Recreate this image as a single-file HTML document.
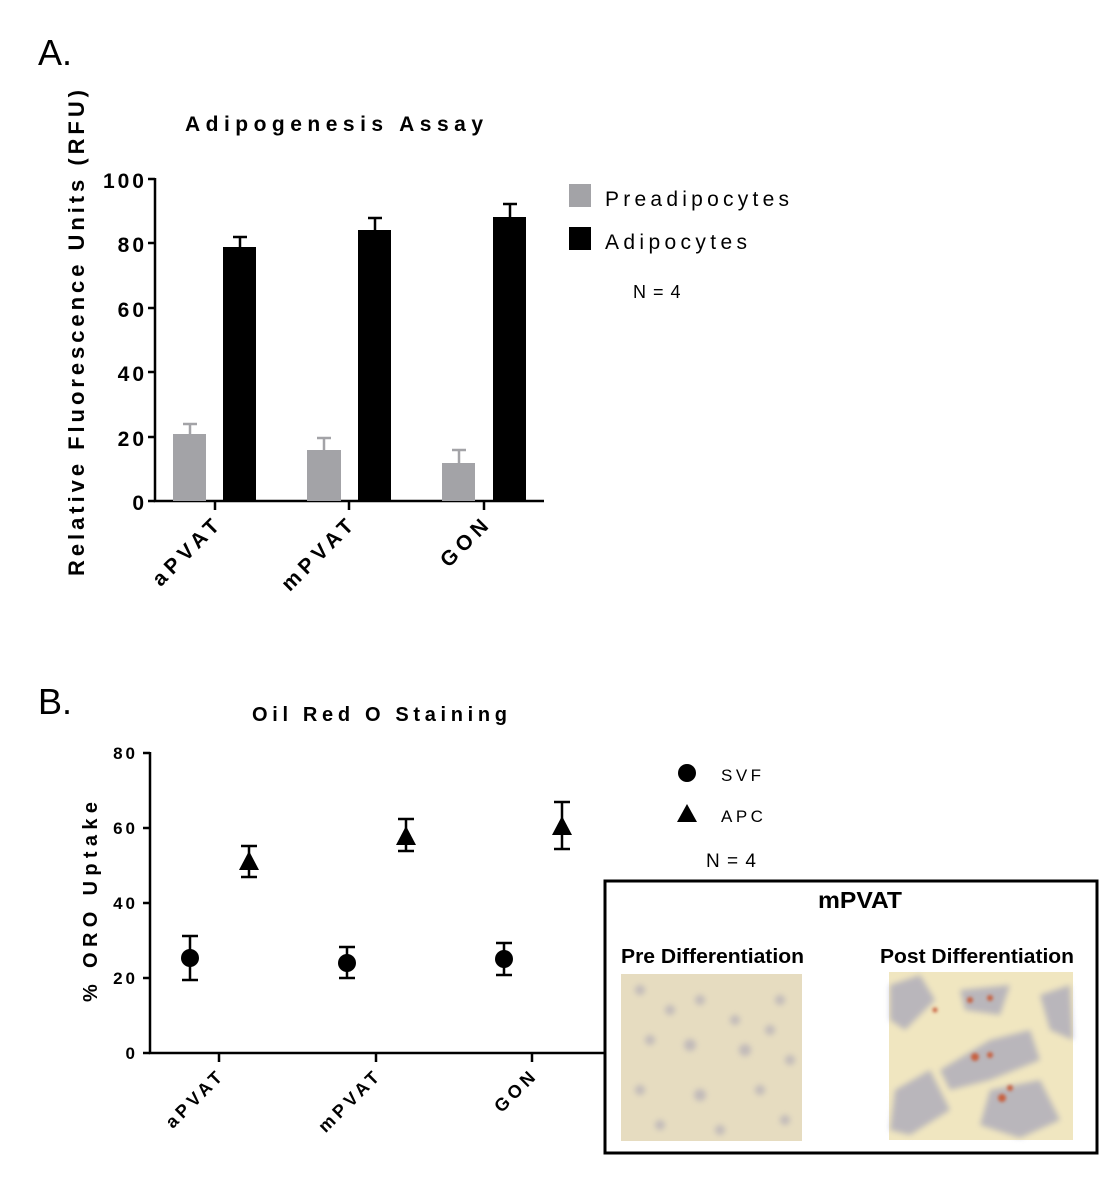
<!DOCTYPE html>
<html><head><meta charset="utf-8"><style>
html,body{margin:0;padding:0;background:#fff;}
svg{display:block;font-family:"Liberation Sans",Arial,sans-serif;}
.b{font-weight:bold;}
</style></head><body>
<svg width="1108" height="1200" viewBox="0 0 1108 1200" xmlns="http://www.w3.org/2000/svg">
<defs>
<filter id="blur2"><feGaussianBlur stdDeviation="3"/></filter>
<filter id="blur1"><feGaussianBlur stdDeviation="1.5"/></filter>
</defs>
<!-- Panel A -->
<text x="38" y="65" font-size="36">A.</text>
<text x="185" y="131" font-size="21" class="b" textLength="298" lengthAdjust="spacing">Adipogenesis Assay</text>
<text transform="translate(84,333) rotate(-90)" text-anchor="middle" font-size="22" class="b" textLength="486" lengthAdjust="spacing">Relative Fluorescence Units (RFU)</text>
<g font-size="21" class="b" text-anchor="end" letter-spacing="3">
<text x="147" y="188">100</text><text x="147" y="252">80</text><text x="147" y="317">60</text>
<text x="147" y="381">40</text><text x="147" y="446">20</text><text x="147" y="510">0</text>
</g>
<g stroke="#000" stroke-width="2.5" fill="none">
<path d="M155,178 V501 H544"/>
<path d="M148,179H155M148,243H155M148,308H155M148,372H155M148,437H155M148,501H155"/>
<path d="M215,501V510M349,501V510M484,501V510"/>
</g>
<g fill="#a3a3a7">
<rect x="173" y="434" width="33" height="67"/><rect x="307" y="450" width="34" height="51"/><rect x="442" y="463" width="33" height="38"/>
</g>
<g fill="#000">
<rect x="223" y="247" width="33" height="254"/><rect x="358" y="230" width="33" height="271"/><rect x="493" y="217" width="33" height="284"/>
</g>
<g stroke="#a3a3a7" stroke-width="2.5">
<path d="M190,434V424M183,424H197M324,450V438M317,438H331M459,463V450M452,450H466"/>
</g>
<g stroke="#000" stroke-width="2.5">
<path d="M240,247V237M233,237H247M375,230V218M368,218H382M510,217V204M503,204H517"/>
</g>
<g font-size="21" class="b" letter-spacing="5" text-anchor="end">
<text transform="translate(224,524) rotate(-45)">aPVAT</text>
<text transform="translate(358,524) rotate(-45)">mPVAT</text>
<text transform="translate(493,524) rotate(-45)">GON</text>
</g>
<rect x="569" y="184" width="22" height="23" fill="#a3a3a7"/>
<rect x="569" y="227" width="22" height="23" fill="#000"/>
<text x="605" y="206" font-size="21" textLength="184" lengthAdjust="spacing">Preadipocytes</text>
<text x="605" y="249" font-size="21" textLength="142" lengthAdjust="spacing">Adipocytes</text>
<text x="633" y="298" font-size="18" letter-spacing="1">N = 4</text>

<!-- Panel B -->
<text x="38" y="714" font-size="36">B.</text>
<text x="252" y="721" font-size="20" class="b" textLength="255" lengthAdjust="spacing">Oil Red O Staining</text>
<text transform="translate(97,902) rotate(-90)" text-anchor="middle" font-size="20" class="b" textLength="200" lengthAdjust="spacing">% ORO Uptake</text>
<g font-size="17" class="b" text-anchor="end" letter-spacing="3">
<text x="138" y="759">80</text><text x="138" y="834">60</text><text x="138" y="909">40</text>
<text x="138" y="984">20</text><text x="138" y="1059">0</text>
</g>
<g stroke="#000" stroke-width="2.5" fill="none">
<path d="M150,752 V1053 H604"/>
<path d="M143,753H150M143,828H150M143,903H150M143,978H150M143,1053H150"/>
<path d="M219,1053V1062M376,1053V1062M532,1053V1062"/>
<path d="M190,936V980M182,936H198M182,980H198"/>
<path d="M249,846V877M241,846H257M241,877H257"/>
<path d="M347,947V978M339,947H355M339,978H355"/>
<path d="M406,819V851M398,819H414M398,851H414"/>
<path d="M504,943V975M496,943H512M496,975H512"/>
<path d="M562,802V849M554,802H570M554,849H570"/>
</g>
<g fill="#000">
<circle cx="190" cy="958" r="9"/><circle cx="347" cy="963" r="9"/><circle cx="504" cy="959" r="9"/>
<path d="M249,851 L259,870 L239,870Z"/><path d="M406,826 L416,845 L396,845Z"/><path d="M562,816 L572,835 L552,835Z"/>
<circle cx="687" cy="773" r="9"/>
<path d="M687,804 L697,822 L677,822Z"/>
</g>
<g font-size="18" class="b" letter-spacing="4" text-anchor="end">
<text transform="translate(226,1076) rotate(-45)">aPVAT</text>
<text transform="translate(383,1076) rotate(-45)">mPVAT</text>
<text transform="translate(539,1076) rotate(-45)">GON</text>
</g>
<text x="721" y="781" font-size="17" letter-spacing="3.5">SVF</text>
<text x="721" y="822" font-size="17" letter-spacing="3.5">APC</text>
<text x="706" y="867" font-size="19" letter-spacing="1">N = 4</text>

<!-- Inset -->
<rect x="605" y="881" width="492" height="272" fill="#fff" stroke="#000" stroke-width="3"/>
<text x="860" y="908" font-size="23" class="b" text-anchor="middle" textLength="84" lengthAdjust="spacingAndGlyphs">mPVAT</text>
<text x="621" y="963" font-size="20" class="b" textLength="183" lengthAdjust="spacingAndGlyphs">Pre Differentiation</text>
<text x="880" y="963" font-size="20" class="b" textLength="194" lengthAdjust="spacingAndGlyphs">Post Differentiation</text>
<rect x="621" y="974" width="181" height="167" fill="#e6dcc0"/>
<g fill="#a7a3b5" opacity="0.6" filter="url(#blur2)">
<circle cx="640" cy="990" r="5"/><circle cx="670" cy="1010" r="5"/><circle cx="700" cy="1000" r="5"/><circle cx="735" cy="1020" r="5"/>
<circle cx="780" cy="1000" r="5"/><circle cx="650" cy="1040" r="5"/><circle cx="690" cy="1045" r="6"/><circle cx="745" cy="1050" r="6"/>
<circle cx="790" cy="1060" r="5"/><circle cx="640" cy="1090" r="5"/><circle cx="700" cy="1095" r="6"/><circle cx="760" cy="1090" r="5"/>
<circle cx="660" cy="1125" r="5"/><circle cx="720" cy="1130" r="5"/><circle cx="785" cy="1120" r="5"/><circle cx="770" cy="1030" r="5"/>
</g>
<rect x="889" y="972" width="184" height="168" fill="#f0e6c0"/>
<g fill="#8d8fb8" opacity="0.55" filter="url(#blur2)">
<path d="M890,985 L920,975 L935,1000 L905,1030 L890,1020Z"/>
<path d="M960,990 L1010,985 L1000,1015 L965,1010Z"/>
<path d="M940,1070 L990,1040 L1030,1030 L1040,1060 L990,1080 L950,1090Z"/>
<path d="M895,1090 L930,1070 L950,1110 L910,1135 L890,1130Z"/>
<path d="M990,1090 L1040,1080 L1060,1120 L1020,1138 L980,1125Z"/>
<path d="M1040,995 L1070,985 L1073,1040 L1050,1030Z"/>
</g>
<g fill="#c86040" filter="url(#blur1)">
<circle cx="970" cy="1000" r="3"/><circle cx="990" cy="998" r="3"/><circle cx="975" cy="1057" r="4"/><circle cx="990" cy="1055" r="3"/>
<circle cx="1002" cy="1098" r="4"/><circle cx="1010" cy="1088" r="3"/><circle cx="935" cy="1010" r="2.5"/>
</g>
</svg>
</body></html>
